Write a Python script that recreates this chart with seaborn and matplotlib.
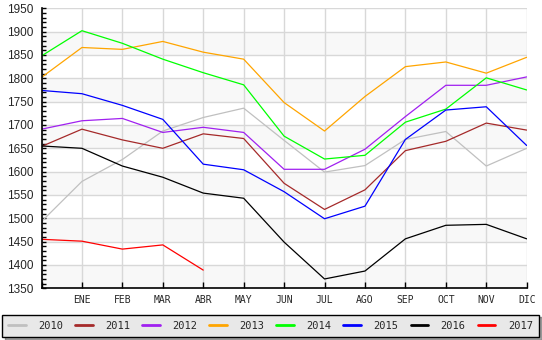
import numpy as np
import pandas as pd
import matplotlib
matplotlib.use("Agg")
import matplotlib.pyplot as plt
import seaborn as sns

months = ["", "ENE", "FEB", "MAR", "ABR", "MAY", "JUN", "JUL", "AGO", "SEP", "OCT", "NOV", "DIC"]
years = ["2010", "2011", "2012", "2013", "2014", "2015", "2016", "2017"]
colors = ["#c0c0c0", "#a52a2a", "#a020f0", "#ffa500", "#00ff00", "#0000ff", "#000000", "#ff0000"]

v2010 = [1493, 1579, 1626, 1687, 1716, 1736, 1667, 1599, 1613, 1669, 1686, 1612, 1650]
v2011 = [1654, 1691, 1668, 1650, 1681, 1671, 1575, 1519, 1561, 1645, 1665, 1704, 1689]
v2012 = [1691, 1709, 1714, 1684, 1695, 1684, 1605, 1605, 1648, 1718, 1785, 1785, 1803]
v2013 = [1802, 1866, 1862, 1879, 1856, 1841, 1748, 1687, 1761, 1825, 1835, 1811, 1845]
v2014 = [1848, 1902, 1875, 1841, 1812, 1786, 1676, 1627, 1635, 1706, 1734, 1801, 1775]
v2015 = [1774, 1767, 1742, 1712, 1616, 1604, 1557, 1499, 1526, 1669, 1732, 1739, 1656]
v2016 = [1655, 1650, 1612, 1588, 1554, 1543, 1449, 1370, 1387, 1456, 1485, 1487, 1456]
v2017 = [1455, 1451, 1434, 1443, 1389]

series = [v2010, v2011, v2012, v2013, v2014, v2015, v2016, v2017]
rows = []
for yr, vals in zip(years, series):
    for i, v in enumerate(vals):
        rows.append({"idx": i, "value": v, "year": yr})
df = pd.DataFrame(rows)

sns.set_style("white")
plt.rcParams["font.family"] = ["DejaVu Sans"]

fig = plt.figure(figsize=(5.42, 3.40), dpi=100)
ax = fig.add_axes([41.5 / 542, 1 - 288.3 / 340, (526.7 - 41.5) / 542, (288.3 - 8.3) / 340])

ymin, ymax, ystep = 1350, 1950, 50
yticks = np.arange(ymin, ymax + 1, ystep)
for lo in yticks[:-1]:
    if ((lo - ymin) // ystep) % 2 == 0:
        ax.axhspan(lo, lo + ystep, color="#f8f8f8", zorder=0, lw=0)

sns.lineplot(data=df, x="idx", y="value", hue="year", hue_order=years,
             palette=dict(zip(years, colors)), estimator=None, sort=False,
             linewidth=0.9, ax=ax, legend=True, zorder=3)

ax.set_xlim(0, 12)
ax.set_ylim(ymin, ymax)
ax.set_xticks(range(13))
ax.set_xticklabels(months, family="DejaVu Sans Mono", fontsize=7)
ax.set_yticks(yticks)
ax.set_yticklabels([str(t) for t in yticks], family="Liberation Sans", fontsize=8.5)
ax.set_yticks(np.arange(ymin, ymax + 1, 10), minor=True)
ax.set_xlabel("")
ax.set_ylabel("")
ax.grid(True, which="major", color="#d8d8d8", linewidth=1.0, zorder=1)
ax.set_axisbelow(True)
ax.tick_params(axis="x", which="major", bottom=True, direction="in", length=4, width=1,
               color="black", pad=5)
ax.tick_params(axis="y", which="both", left=True, direction="in", length=3, width=1,
               color="black", pad=6)
for s in ["top", "right"]:
    ax.spines[s].set_visible(False)
for s in ["left", "bottom"]:
    ax.spines[s].set_color("black")
    ax.spines[s].set_linewidth(1.2)
    ax.spines[s].set_zorder(5)

handles, labels = ax.get_legend_handles_labels()
ax.get_legend().remove()
for h in handles:
    h.set_linewidth(2)
leg = fig.legend(handles, labels, ncol=8, loc="lower left",
                 bbox_to_anchor=(2 / 542, 3 / 340, 537 / 542, 25 / 340), mode="expand",
                 frameon=True, fancybox=False, shadow=True, facecolor="#e8e8e8",
                 edgecolor="black", framealpha=1, borderaxespad=0,
                 prop={"family": "DejaVu Sans Mono", "size": 7.5},
                 handlelength=1.7, handletextpad=1.2, columnspacing=1.0, borderpad=0.6)
leg.get_frame().set_linewidth(1.0)

fig.savefig("out.png", dpi=100)
